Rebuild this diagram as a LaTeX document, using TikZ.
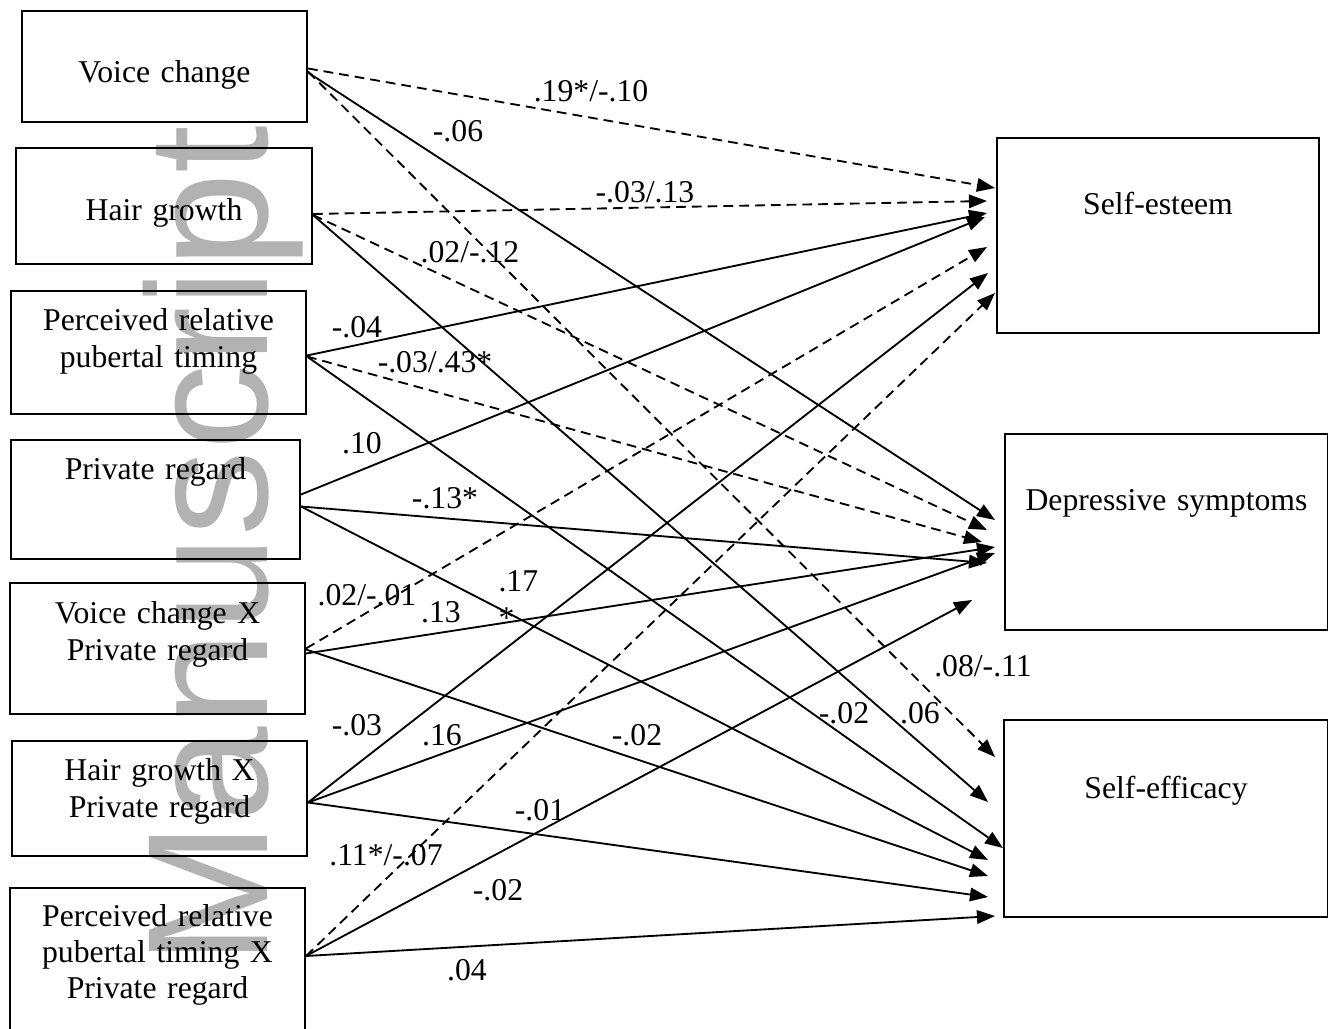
\documentclass[tikz,border=0pt]{standalone}
\usepackage{fontspec}
\setmainfont{Liberation Serif}
\newfontfamily\wmfont{Liberation Sans}
\usetikzlibrary{arrows.meta, calc}
\newlength{\px}
\setlength{\px}{0.133mm}
\definecolor{wmgray}{RGB}{178,178,178}
\tikzset{>={Triangle[length=2.4mm,width=1.8mm]}}
\tikzset{var/.style={draw, line width=0.75pt, inner sep=0pt, align=center},
  eff/.style={->, line width=0.7pt},
  deff/.style={eff, dash pattern=on 1.3mm off 0.8mm},
  coef/.style={anchor=base, inner sep=0pt}}

\begin{document}
\begin{tikzpicture}[x=\px, y=-\px, font=\fontsize{12}{13.8}\selectfont]
  \useasboundingbox (0,0) rectangle (1328,1029);

  % watermark behind everything
  \node[wmgray, font=\wmfont\fontsize{65}{65}\selectfont, rotate=90, anchor=base east, inner sep=0pt] (wm) at (267,125) {Manuscript};

  % predictors
  \node[var, anchor=north west, text width=285\px, text height=72\px, text depth=39\px] (vc) at (21,10) {Voice change};
  \node[var, anchor=north west, text width=296\px, text height=73\px, text depth=43\px] (hg) at (15,147) {Hair growth};
  \node[var, anchor=north west, text width=295\px, text height=40\px, text depth=83\px] (prt) at (10,290) {Perceived relative\\pubertal timing};
  \node[var, anchor=north west, text width=289\px, text height=40\px, text depth=79\px] (pr) at (10,439) {Private regard};
  \node[var, anchor=north west, text width=295\px, text height=41\px, text depth=90\px] (vcpr) at (9,582) {Voice change X\\Private regard};
  \node[var, anchor=north west, text width=295\px, text height=40\px, text depth=75\px] (hgpr) at (11,740) {Hair growth X\\Private regard};
  \node[var, anchor=north west, text width=295\px, text height=38\px, text depth=108\px] (prtpr) at (9,887) {Perceived relative\\pubertal timing X\\Private regard};

  % outcomes
  \node[var, anchor=north west, text width=322\px, text height=77\px, text depth=118\px] (se) at (996,137) {Self-esteem};
  \node[var, anchor=north west, text width=323\px, text height=77\px, text depth=119\px] (ds) at (1004,433) {Depressive symptoms};
  \node[var, anchor=north west, text width=324\px, text height=79\px, text depth=118\px] (seff) at (1003,719) {Self-efficacy};

  % paths to self-esteem
  \draw[deff] ($(vc.east)+(0,2)$) -- ($(se.north west)+(-1,51)$);
  \draw[deff] ($(hg.east)+(0,8)$) -- ($(se.north west)+(-9,64)$);
  \draw[eff] ($(prt.east)+(0,3)$) -- ($(se.north west)+(-9,76)$);
  \draw[eff] ($(pr.east)+(0,-5)$) -- ($(se.north west)+(-11,80)$);
  \draw[deff] (vcpr.east) -- ($(se.north west)+(-9,110)$);
  \draw[eff] ($(hgpr.east)+(0,4)$) -- ($(se.north west)+(-8,136)$);
  \draw[deff] ($(prtpr.east)+(0,-5)$) -- ($(se.north west)+(-1,156)$);

  % paths to depressive symptoms
  \draw[eff] ($(vc.east)+(0,6)$) -- ($(ds.north west)+(-9,87)$);
  \draw[deff] ($(hg.east)+(0,9)$) -- ($(ds.north west)+(-17,97)$);
  \draw[deff] ($(prt.east)+(0,4)$) -- ($(ds.north west)+(-22,109)$);
  \draw[eff] ($(pr.east)+(0,7)$) -- ($(ds.north west)+(-17,130)$);
  \draw[eff] ($(vcpr.east)+(0,5)$) -- ($(ds.north west)+(-9,114)$);
  \draw[eff] ($(hgpr.east)+(0,4)$) -- ($(ds.north west)+(-9,120)$);
  \draw[eff] ($(prtpr.east)+(0,-5)$) -- ($(ds.north west)+(-32,167)$);

  % paths to self-efficacy
  \draw[deff] ($(vc.east)+(0,5)$) -- ($(seff.north west)+(-8,38)$);
  \draw[eff] ($(hg.east)+(0,9)$) -- ($(seff.north west)+(-15,83)$);
  \draw[eff] ($(prt.east)+(0,4)$) -- ($(seff.north west)+(0,129)$);
  \draw[eff] ($(pr.east)+(0,7)$) -- ($(seff.north west)+(-15,141)$);
  \draw[eff] ($(vcpr.east)+(0,1)$) -- ($(seff.north west)+(-15,157)$);
  \draw[eff] ($(hgpr.east)+(0,4)$) -- ($(seff.north west)+(-15,178)$);
  \draw[eff] ($(prtpr.east)+(0,-5)$) -- ($(seff.north west)+(-8,197)$);

  % coefficients
  \node[coef] (c1) at (591,102) {.19*/-.10};
  \node[coef] (c2) at (458,142) {-.06};
  \node[coef] (c3) at (645,203) {-.03/.13};
  \node[coef] (c4) at (470,263) {.02/-.12};
  \node[coef] (c5) at (357,337) {-.04};
  \node[coef] (c6) at (435,372) {-.03/.43*};
  \node[coef] (c7) at (362,453) {.10};
  \node[coef] (c8) at (445,508) {-.13*};
  \node[coef, anchor=base west, align=left] (c9) at (498,628) {.17\\*};
  \node[coef] (c10) at (367,605) {.02/-.01};
  \node[coef] (c11) at (441,622) {.13};
  \node[coef] (c12) at (357,735) {-.03};
  \node[coef] (c13) at (442,745) {.16};
  \node[coef] (c14) at (637,745) {-.02};
  \node[coef] (c15) at (540,820) {-.01};
  \node[coef] (c16) at (386,865) {.11*/-.07};
  \node[coef] (c17) at (498,900) {-.02};
  \node[coef] (c18) at (467,980) {.04};
  \node[coef] (c19) at (983,676) {.08/-.11};
  \node[coef] (c20) at (844,723) {-.02};
  \node[coef] (c21) at (920,723) {.06};
\end{tikzpicture}
\end{document}
